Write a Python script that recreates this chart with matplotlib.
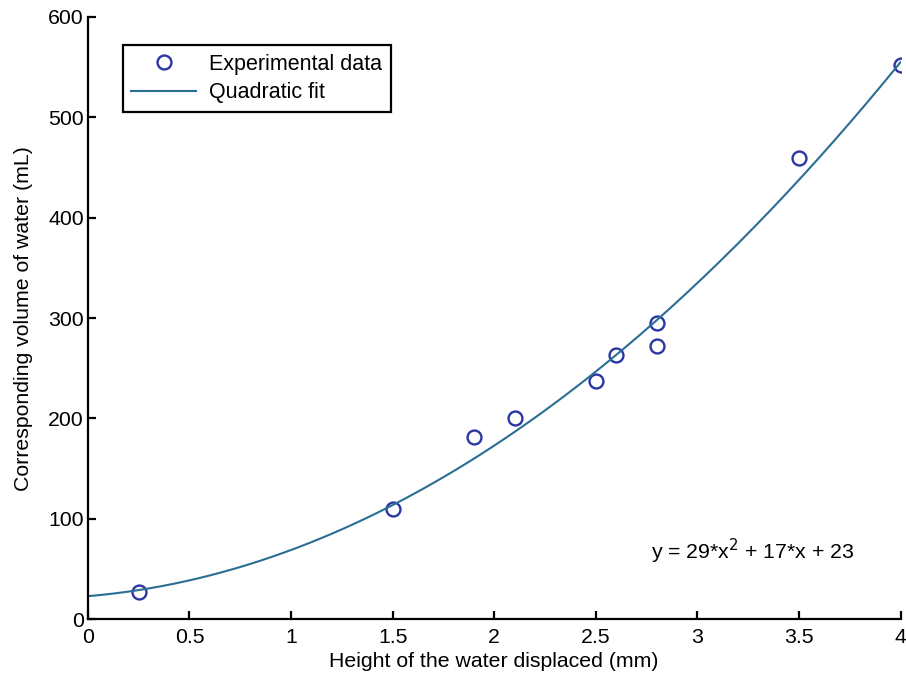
import numpy as np
import matplotlib
matplotlib.use("Agg")
import matplotlib.pyplot as plt

height_mm = [0.25, 1.5, 1.9, 2.1, 2.5, 2.6, 2.8, 2.8, 3.5, 4.0]
volume_ml = [27, 110, 182, 200, 237, 263, 295, 272, 460, 552]

# quadratic fit coefficients as printed on the chart (a, b, c)
fit_coeffs = [29, 17, 23]

plt.rcParams['font.family'] = ['Liberation Sans', 'DejaVu Sans']
plt.rcParams['font.size'] = 15.3

fig = plt.figure(figsize=(9.06, 6.79), dpi=100)
ax = fig.add_axes([0.097, 0.088, 0.897, 0.887])

xs = np.linspace(0, 4, 200)
ys = np.polyval(fit_coeffs, xs)

ax.plot(height_mm, volume_ml, 'o', mfc='none', mec='#2b36a3', mew=1.7, ms=10,
        label='Experimental data')
ax.plot(xs, ys, '-', color='#2a6e93', lw=1.5, label='Quadratic fit')

ax.set_xlim(0, 4)
ax.set_ylim(0, 600)
ax.set_xticks([0, 0.5, 1, 1.5, 2, 2.5, 3, 3.5, 4])
ax.set_xticklabels(['0', '0.5', '1', '1.5', '2', '2.5', '3', '3.5', '4'])
ax.set_yticks(range(0, 601, 100))

ax.spines['top'].set_visible(False)
ax.spines['right'].set_visible(False)
for s in ['left', 'bottom']:
    ax.spines[s].set_linewidth(1.6)
ax.tick_params(direction='in', length=6, width=1.6, pad=3)
ax.tick_params(axis='x', pad=6)

ax.set_xlabel('Height of the water displaced (mm)', labelpad=4)
ax.set_ylabel('Corresponding volume of water (mL)', labelpad=11)

ax.text(2.77, 60, 'y = 29*x$^2$ + 17*x + 23', fontsize=15.3)

leg = ax.legend(loc='upper left', bbox_to_anchor=(0.043, 0.9535), borderaxespad=0,
                fancybox=False, edgecolor='black', framealpha=1, fontsize=15.5,
                handlelength=3.0, borderpad=0.4, labelspacing=0.35, handletextpad=0.6)
leg.get_frame().set_linewidth(1.6)

fig.savefig('out.png', dpi=100)
